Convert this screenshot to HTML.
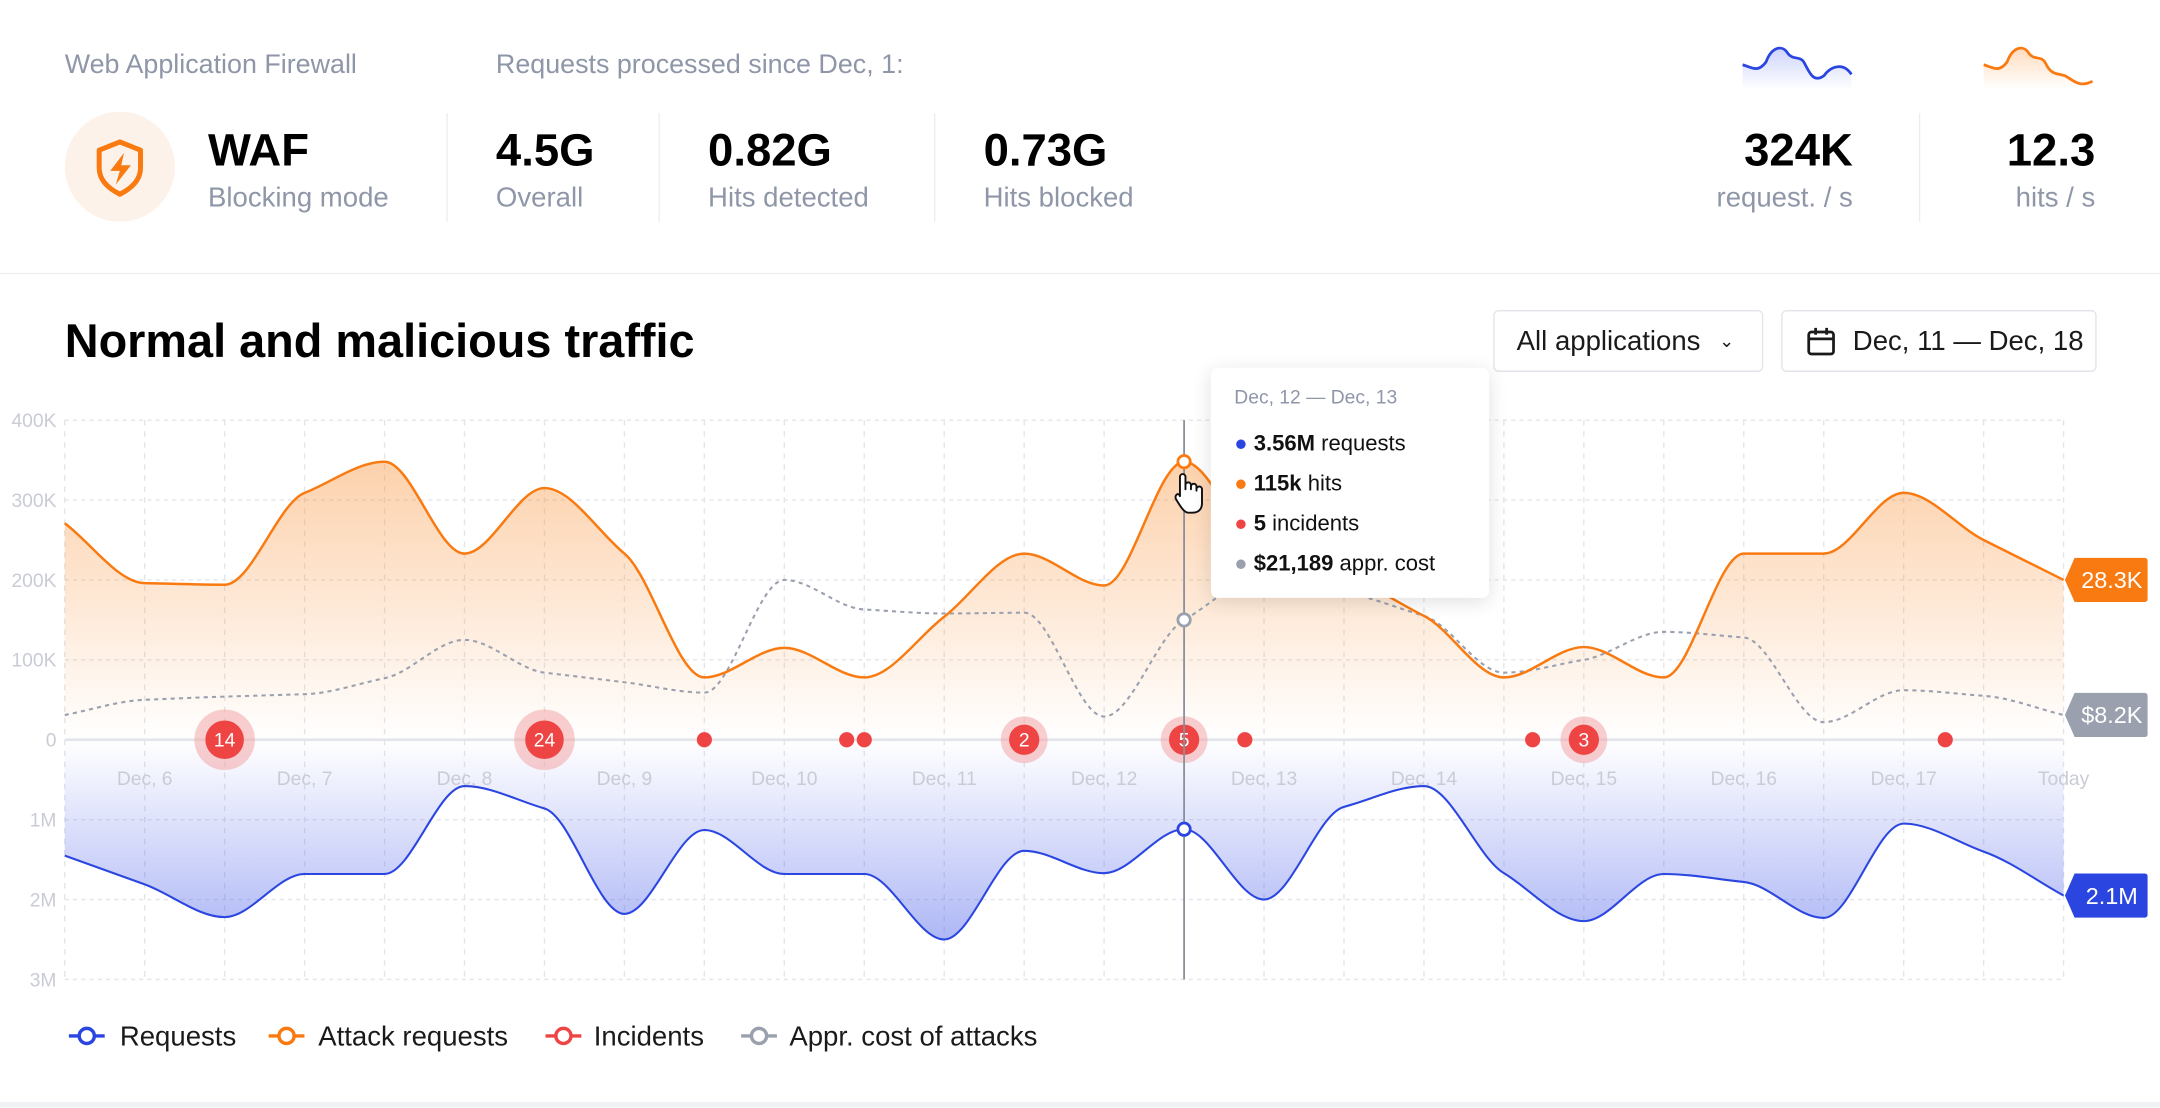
<!DOCTYPE html>
<html><head><meta charset="utf-8">
<style>
html,body{margin:0;padding:0;background:#fff;}
body{width:2160px;height:1108px;overflow:hidden;font-family:"Liberation Sans",Arial,sans-serif;}
#wrap{position:absolute;left:0;top:0;width:1568px;height:804px;transform:scale(1.37755);transform-origin:0 0;}
.abs{position:absolute;white-space:nowrap;}
.lbl{font-size:19.5px;color:#8e96a8;}
.big{font-size:33px;font-weight:bold;color:#000;}
.sub{font-size:20px;color:#8e96a8;}
.div{position:absolute;width:1px;background:#ebedf1;}
.btn{position:absolute;border:1px solid #e1e4ea;border-radius:4px;background:#fff;font-size:20px;color:#1a1a1a;box-sizing:border-box;}
</style></head>
<body>
<div id="wrap">
  <div class="abs lbl" style="left:47px;top:36px">Web Application Firewall</div>
  <div class="abs lbl" style="left:360px;top:36px">Requests processed since Dec, 1:</div>
  <div class="abs" style="left:47px;top:81px;width:80px;height:80px;border-radius:50%;background:#fdf2e9">
    <svg width="80" height="80" viewBox="0 0 80 80"><path d="M40 22 L55 28 V41 C55 50 48 56 40 60 C32 56 25 50 25 41 V28 Z" fill="none" stroke="#f97a10" stroke-width="3.6" stroke-linejoin="round"/><path d="M43 30 L33 43 H40 L37 53 L48 39 H41 Z" fill="#f97a10"/></svg>
  </div>
  <div class="abs big" style="left:151px;top:90px">WAF</div>
  <div class="abs sub" style="left:151px;top:133px">Blocking mode</div>
  <div class="div" style="left:324px;top:82px;height:79px"></div>
  <div class="abs big" style="left:360px;top:90px">4.5G</div>
  <div class="abs sub" style="left:360px;top:133px">Overall</div>
  <div class="div" style="left:478px;top:82px;height:79px"></div>
  <div class="abs big" style="left:514px;top:90px">0.82G</div>
  <div class="abs sub" style="left:514px;top:133px">Hits detected</div>
  <div class="div" style="left:678px;top:82px;height:79px"></div>
  <div class="abs big" style="left:714px;top:90px">0.73G</div>
  <div class="abs sub" style="left:714px;top:133px">Hits blocked</div>

  <svg class="abs" style="left:1262px;top:30px" width="88" height="35">
    <defs><linearGradient id="sb" x1="0" y1="0" x2="0" y2="1"><stop offset="0" stop-color="#5b72ef" stop-opacity=".3"/><stop offset="1" stop-color="#5b72ef" stop-opacity="0"/></linearGradient></defs>
    <path d="M3 17 C10 19 14 23 20 15 C24 4 32 2 36 9 C40 14 45 10 48 16 C52 24 55 30 62 25 C67 18 76 15 82 24 V35 H3 Z" fill="url(#sb)"/>
    <path d="M3 17 C10 19 14 23 20 15 C24 4 32 2 36 9 C40 14 45 10 48 16 C52 24 55 30 62 25 C67 18 76 15 82 24" fill="none" stroke="#2b46e0" stroke-width="2"/>
  </svg>
  <svg class="abs" style="left:1437px;top:30px" width="88" height="35">
    <defs><linearGradient id="so" x1="0" y1="0" x2="0" y2="1"><stop offset="0" stop-color="#ff8a2a" stop-opacity=".3"/><stop offset="1" stop-color="#ff8a2a" stop-opacity="0"/></linearGradient></defs>
    <path d="M3 17 C10 19 14 23 20 15 C24 4 32 2 36 9 C40 14 45 10 48 16 C52 25 57 23 62 25 C68 28 72 34 82 29 V35 H3 Z" fill="url(#so)"/>
    <path d="M3 17 C10 19 14 23 20 15 C24 4 32 2 36 9 C40 14 45 10 48 16 C52 25 57 23 62 25 C68 28 72 34 82 29" fill="none" stroke="#f97a10" stroke-width="2"/>
  </svg>
  <div class="abs big" style="right:223px;top:90px">324K</div>
  <div class="abs sub" style="right:223px;top:133px">request. / s</div>
  <div class="div" style="left:1393px;top:82px;height:79px"></div>
  <div class="abs big" style="right:47px;top:90px">12.3</div>
  <div class="abs sub" style="right:47px;top:133px">hits / s</div>

  <div class="abs" style="left:0;top:198px;width:1568px;height:1px;background:#eef0f3"></div>
  <div class="abs big" style="left:47px;top:229px;font-size:34px">Normal and malicious traffic</div>
  <div class="btn" style="left:1084px;top:225px;width:196px;height:45px;padding:11px 0 0 16px">All applications <span style="font-size:13px;margin-left:8px;position:relative;top:-2px">&#8964;</span></div>
  <div class="btn" style="left:1293px;top:225px;width:229px;height:45px;padding:11px 0 0 51px">
    <svg style="position:absolute;left:17px;top:11px" width="22" height="22" viewBox="0 0 22 22"><rect x="2" y="4" width="18" height="16" rx="2" fill="none" stroke="#1a1a1a" stroke-width="2"/><line x1="2" y1="9" x2="20" y2="9" stroke="#1a1a1a" stroke-width="2"/><line x1="7" y1="1" x2="7" y2="6" stroke="#1a1a1a" stroke-width="2"/><line x1="15" y1="1" x2="15" y2="6" stroke="#1a1a1a" stroke-width="2"/></svg>
    Dec, 11 — Dec, 18</div>

  <svg id="chart" class="abs" style="left:0;top:0" width="1568" height="804"></svg>

  <div class="abs" style="left:879px;top:267px;width:202px;height:167px;background:#fff;border-radius:5px;box-shadow:0 3px 14px rgba(0,0,0,.12);font-size:16px;color:#111">
    <div style="position:absolute;left:17px;top:13px;font-size:14px;color:#8e96a8">Dec, 12 — Dec, 13</div>
    <div style="position:absolute;left:17px;top:47px"><span style="color:#2b46e0">●</span> <b>3.56M</b> requests</div>
    <div style="position:absolute;left:17px;top:76px"><span style="color:#f97a10">●</span> <b>115k</b> hits</div>
    <div style="position:absolute;left:17px;top:105px"><span style="color:#ef4444">●</span> <b>5</b> incidents</div>
    <div style="position:absolute;left:17px;top:134px"><span style="color:#9aa0ae">●</span> <b>$21,189</b> appr. cost</div>
  </div>

  <div class="abs" style="left:0;top:800px;width:1568px;height:4px;background:#f0f1f4"></div>
</div>
<script>
const categories=["Dec, 6","Dec, 7","Dec, 8","Dec, 9","Dec, 10","Dec, 11","Dec, 12","Dec, 13","Dec, 14","Dec, 15","Dec, 16","Dec, 17","Today"];
const categoryDays=[6,7,8,9,10,11,12,13,14,15,16,17,18];
const sampleDays=[5.5,6,6.5,7,7.5,8,8.5,9,9.5,10,10.5,11,11.5,12,12.5,13,13.5,14,14.5,15,15.5,16,16.5,17,17.5,18];
const attackRequests=[271,196,194,309,348,233,315,233,78,115,78,154,233,193,348,235,205,155,78,116,78,233,233,309,250,200];
const costOfAttacks=[31,50,54,57,77,125,84,72,59,200,163,158,159,29,150,205,185,155,84,100,135,128,22,62,55,31];
const requests=[1.45,1.81,2.22,1.68,1.68,0.58,0.86,2.18,1.13,1.68,1.68,2.5,1.39,1.67,1.12,2.0,0.84,0.58,1.67,2.27,1.68,1.78,2.23,1.05,1.4,1.95];
const incidentDays=[6.5,8.5,9.5,10.39,10.5,11.5,12.5,12.88,14.68,15,17.26];
const incidentCounts=[14,24,1,1,1,2,5,1,1,3,1];
const upperTicks=["0","100K","200K","300K","400K"];
const upperTickValues=[0,100,200,300,400];
const lowerTicks=["1M","2M","3M"];
const lowerTickValues=[1,2,3];
const hoverDay=12.5;
const lastLabels=["28.3K","$8.2K","2.1M"];

const NS="http://www.w3.org/2000/svg";
const svg=document.getElementById('chart');
const X0=47,X1=1498,Y0=537,UH=58;
function x(d){return X0+(d-5.5)/(18-5.5)*(X1-X0);}
function yUp(v){return Y0-v/100*UH;}
function yDn(v){return Y0+v*UH;}
function el(tag,attrs,parent){const e=document.createElementNS(NS,tag);for(const k in attrs)e.setAttribute(k,attrs[k]);(parent||svg).appendChild(e);return e;}
function mono(pts){
  const n=pts.length,s=[],m=[];
  for(let i=0;i<n-1;i++)s.push((pts[i+1][1]-pts[i][1])/(pts[i+1][0]-pts[i][0]));
  for(let i=0;i<n;i++){
    if(i===0)m.push(s[0]);else if(i===n-1)m.push(s[n-2]);
    else{const a=s[i-1],b=s[i];m.push(a*b<=0?0:(Math.sign(a))*Math.min(Math.abs(a),Math.abs(b),Math.abs((a+b)/2)));}
  }
  let d="M"+pts[0][0]+","+pts[0][1];
  for(let i=0;i<n-1;i++){const h=(pts[i+1][0]-pts[i][0])/3;
    d+=" C"+(pts[i][0]+h)+","+(pts[i][1]+m[i]*h)+" "+(pts[i+1][0]-h)+","+(pts[i+1][1]-m[i+1]*h)+" "+pts[i+1][0]+","+pts[i+1][1];}
  return d;
}
const defs=el('defs',{});
defs.innerHTML='<linearGradient id="go" x1="0" y1="305" x2="0" y2="537" gradientUnits="userSpaceOnUse"><stop offset="0" stop-color="#f98a2a" stop-opacity=".45"/><stop offset="1" stop-color="#f98a2a" stop-opacity="0"/></linearGradient><linearGradient id="gb" x1="0" y1="537" x2="0" y2="711" gradientUnits="userSpaceOnUse"><stop offset="0" stop-color="#4e63ea" stop-opacity="0"/><stop offset="1" stop-color="#4e63ea" stop-opacity=".55"/></linearGradient>';

const grid=el('g',{});


sampleDays.forEach(d=>{el('line',{x1:x(d),x2:x(d),y1:305,y2:711,stroke:'#e3e5ea','stroke-dasharray':'4 4','stroke-width':1},grid);});
upperTickValues.forEach((v,i)=>{if(v>0)el('line',{x1:X0,x2:X1,y1:yUp(v),y2:yUp(v),stroke:'#e3e5ea','stroke-dasharray':'3 3'},grid);
  const t=el('text',{x:41,y:yUp(v)+5,'text-anchor':'end','font-size':14,fill:'#c9ccd5'});t.textContent=upperTicks[i];
  });
lowerTickValues.forEach((v,i)=>{el('line',{x1:X0,x2:X1,y1:yDn(v),y2:yDn(v),stroke:'#e3e5ea','stroke-dasharray':'3 3'},grid);
  const t=el('text',{x:41,y:yDn(v)+5,'text-anchor':'end','font-size':14,fill:'#c9ccd5'});t.textContent=lowerTicks[i];
  });

const pO=sampleDays.map((d,i)=>[x(d),yUp(attackRequests[i])]);
const pB=sampleDays.map((d,i)=>[x(d),yDn(requests[i])]);
const pG=sampleDays.map((d,i)=>[x(d),yUp(costOfAttacks[i])]);
const dO=mono(pO),dB=mono(pB),dG=mono(pG);
const aO=el('path',{d:dO+" L"+X1+","+Y0+" L"+X0+","+Y0+" Z",fill:'url(#go)'});

const aB=el('path',{d:dB+" L"+X1+","+Y0+" L"+X0+","+Y0+" Z",fill:'url(#gb)'});

el('line',{x1:X0,x2:X1,y1:Y0,y2:Y0,stroke:'#e4e5ea','stroke-width':2});
categories.forEach((c,i)=>{const t=el('text',{x:x(categoryDays[i]),y:570,'text-anchor':'middle','font-size':14,fill:'#c9ccd5'});t.textContent=c;
  });
const lG=el('path',{d:dG,fill:'none',stroke:'#9aa0ae','stroke-width':1.5,'stroke-dasharray':'3 3'});

const lO=el('path',{d:dO,fill:'none',stroke:'#f97a10','stroke-width':1.8});

const lB=el('path',{d:dB,fill:'none',stroke:'#2b46e0','stroke-width':1.5});


incidentDays.forEach((d,i)=>{const c=incidentCounts[i],g=el('g',{});
  
  
  if(c>1){const r=c>=10?22:17;el('circle',{cx:x(d),cy:Y0,r:r,fill:'#f3a5a8',opacity:.55},g);
    el('circle',{cx:x(d),cy:Y0,r:c>=10?14:11,fill:'#ef4444'},g);
    const t=el('text',{x:x(d),y:Y0+5,'text-anchor':'middle','font-size':14,fill:'#fff'},g);t.textContent=c;}
  else el('circle',{cx:x(d),cy:Y0,r:5.5,fill:'#ef4444'},g);});

const hi=sampleDays.indexOf(hoverDay);
el('line',{x1:x(hoverDay),x2:x(hoverDay),y1:305,y2:711,stroke:'#8a8f9c','stroke-width':1.3});
[[yUp(attackRequests[hi]),'#f97a10'],[yUp(costOfAttacks[hi]),'#9aa0ae'],[yDn(requests[hi]),'#2b46e0']].forEach(p=>{
  const c=el('circle',{cx:x(hoverDay),cy:p[0],r:4.5,fill:'#fff',stroke:p[1],'stroke-width':2});
  });
// hand cursor
const cx0=x(hoverDay)-6,cy0=yUp(attackRequests[hi])+8;
const hand=el('path',{d:`M${cx0+3},${cy0+15} V${cy0+3} a2,2 0 0 1 4,0 V${cy0+12} V${cy0+9} a2,2 0 0 1 4,0 V${cy0+12} V${cy0+10} a2,2 0 0 1 4,0 V${cy0+13} V${cy0+12} a2,2 0 0 1 4,0 V${cy0+22} C${cy0*0+cx0+19},${cy0+27} ${cx0+16},${cy0+29} ${cx0+12},${cy0+29} H${cx0+9} C${cx0+6},${cy0+29} ${cx0+3},${cy0+24} ${cx0},${cy0+19} C${cx0-1},${cy0+16} ${cx0+2},${cy0+14} ${cx0+3},${cy0+17} Z`,fill:'#fff',stroke:'#111','stroke-width':1.4,'stroke-linejoin':'round'});


[[yUp(attackRequests[25]),'#f97a10',lastLabels[0]],[yUp(costOfAttacks[25]),'#9aa0ae',lastLabels[1]],[yDn(requests[25]),'#2b46e0',lastLabels[2]]].forEach(p=>{
  const g=el('g',{});
  
  
  const y=p[0],x0=X1+1;
  el('path',{d:`M${x0},${y} L${x0+7},${y-16} H${x0+58} a2,2 0 0 1 2,2 V${y+14} a2,2 0 0 1 -2,2 H${x0+7} Z`,fill:p[1]},g);
  const t=el('text',{x:x0+34,y:y+6,'text-anchor':'middle','font-size':17,fill:'#fff'},g);t.textContent=p[2];});

const legend=[["Requests","#2b46e0",50,87],["Attack requests","#f97a10",195,231],["Incidents","#ef4444",396,431],["Appr. cost of attacks","#9aa0ae",538,573]];
legend.forEach(l=>{const g=el('g',{});
  
  
  el('line',{x1:l[2],x2:l[2]+26,y1:752,y2:752,stroke:l[1],'stroke-width':2.5},g);
  el('circle',{cx:l[2]+13,cy:752,r:5.5,fill:'#fff',stroke:l[1],'stroke-width':2.5},g);
  const t=el('text',{x:l[3],y:759,'font-size':20,fill:'#1a1a1a'},g);t.textContent=l[0];});
</script>
</body></html>
